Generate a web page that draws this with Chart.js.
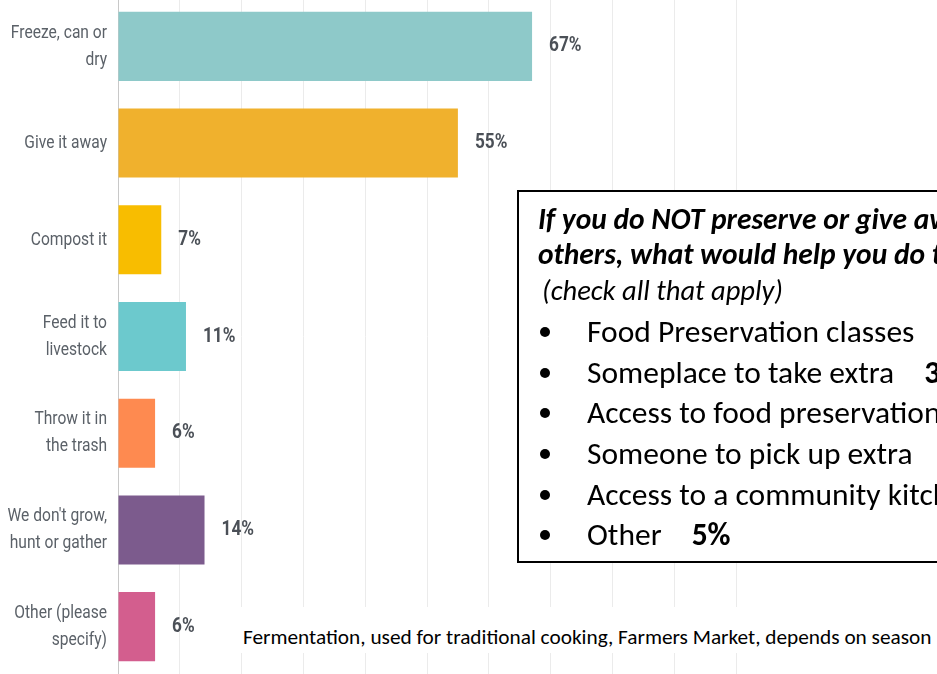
<!DOCTYPE html>
<html lang="en">
  <head>
    <meta charset="UTF-8" />
    <script src="https://cdn.jsdelivr.net/npm/chart.js"></script>
    <title>Extra food</title>
    <style>
      html, body {
        margin: 0;
        padding: 0;
        width: 937px;
        height: 674px;
        overflow: hidden;
        background: #fff;
      }
      #wrap {
        position: absolute;
        left: 0;
        top: -2px;
        width: 937px;
        height: 677px;
      }
      .note-box {
        position: absolute;
        left: 517px;
        top: 190px;
        width: 620px;
        height: 373px;
        box-sizing: border-box;
        border: 2px solid #000;
        background: #fff;
        font-family: Carlito, Lato, sans-serif;
        color: #000;
        white-space: nowrap;
      }
      .note-box .head {
        position: absolute;
        left: 19px;
        font-size: 29.5px;
        font-weight: bold;
        font-style: italic;
        line-height: 36px;
      }
      .note-box .sub {
        position: absolute;
        left: 23px;
        font-size: 28.5px;
        font-style: italic;
        line-height: 36px;
      }
      .note-box ul {
        position: absolute;
        left: 0;
        top: 119px;
        margin: 0;
        padding: 0;
        list-style: none;
      }
      .note-box li {
        position: relative;
        padding-left: 68px;
        font-size: 31.5px;
        line-height: 40.7px;
        height: 40.7px;
      }
      .note-box li::before {
        content: "";
        position: absolute;
        left: 21px;
        top: 16px;
        width: 10px;
        height: 10px;
        border-radius: 50%;
        background: #000;
      }
      .note-box li b {
        margin-left: 30px;
      }
      .footnote {
        position: absolute;
        left: 236px;
        top: 607px;
        width: 701px;
        height: 46px;
        background: #fff;
        font-family: Carlito, Lato, sans-serif;
        font-size: 21.3px;
        line-height: 46px;
        padding-left: 7px;
        box-sizing: border-box;
        white-space: nowrap;
        color: #000;
      }
      .footnote span {
        position: relative;
        top: 7px;
      }
    </style>
  </head>
  <body>
    <div id="wrap"><canvas id="chart"></canvas></div>
    <div class="note-box" id="note"></div>
    <div class="footnote"><span id="footnote"></span></div>
    <script>
      // survey answers (percent of respondents)
      const categories = [
        ['Freeze, can or', 'dry'],
        'Give it away',
        'Compost it',
        ['Feed it to', 'livestock'],
        ['Throw it in', 'the trash'],
        ["We don't grow,", 'hunt or gather'],
        ['Other (please', 'specify)']
      ];
      const values = [67, 55, 7, 11, 6, 14, 6];
      const barColors = ['#8ec9c9', '#f0b12d', '#f8bd00', '#6cc9cd', '#fe8a50', '#7c5b8d', '#d35e8e'];
      const xTicks = [0, 10, 20, 30, 40, 50, 60, 70, 80, 90, 100];

      const noteHeading = [
        'If you do NOT preserve or give away extra food to',
        'others, what would help you do this?'
      ];
      const noteSub = '(check all that apply)';
      const noteItems = [
        ['Food Preservation classes', ''],
        ['Someplace to take extra', '35%'],
        ['Access to food preservation equipment', ''],
        ['Someone to pick up extra', ''],
        ['Access to a community kitchen', ''],
        ['Other', '5%']
      ];
      const footnoteText = 'Fermentation, used for traditional cooking, Farmers Market, depends on season';

      // text box
      const note = document.getElementById('note');
      noteHeading.forEach((line, i) => {
        const d = document.createElement('div');
        d.className = 'head';
        d.style.top = (9 + i * 35) + 'px';
        d.textContent = line;
        note.appendChild(d);
      });
      const sub = document.createElement('div');
      sub.className = 'sub';
      sub.style.top = '81px';
      sub.textContent = noteSub;
      note.appendChild(sub);
      const ul = document.createElement('ul');
      noteItems.forEach(item => {
        const li = document.createElement('li');
        li.textContent = item[0];
        if (item[1]) {
          const b = document.createElement('b');
          b.textContent = item[1];
          li.appendChild(b);
        }
        ul.appendChild(li);
      });
      note.appendChild(ul);
      document.getElementById('footnote').textContent = footnoteText;

      const labelFont = 'Roboto, sans-serif';

      // category names (condensed) and percent labels
      const textLayer = {
        id: 'textLayer',
        afterDatasetsDraw(chart) {
          const ctx = chart.ctx;
          const yScale = chart.scales.y;
          const meta = chart.getDatasetMeta(0);
          ctx.save();
          ctx.textBaseline = 'middle';

          ctx.font = '19px ' + labelFont;
          ctx.fillStyle = '#5b6168';
          ctx.textAlign = 'right';
          categories.forEach((cat, i) => {
            const lines = Array.isArray(cat) ? cat : [cat];
            const y = yScale.getPixelForValue(i);
            lines.forEach((line, j) => {
              const dy = (j - (lines.length - 1) / 2) * 27;
              ctx.save();
              ctx.translate(yScale.right - 11, y + dy);
              ctx.scale(0.82, 1);
              ctx.fillText(line, 0, 0);
              ctx.restore();
            });
          });

          ctx.font = 'bold 20px ' + labelFont;
          ctx.fillStyle = '#4b5057';
          ctx.textAlign = 'left';
          meta.data.forEach((bar, i) => {
            ctx.save();
            ctx.translate(bar.x + 17, bar.y);
            ctx.scale(0.86, 1);
            ctx.fillText(values[i] + '%', 0, 0);
            ctx.restore();
          });
          ctx.restore();
        }
      };

      new Chart(document.getElementById('chart'), {
        type: 'bar',
        data: {
          labels: categories,
          datasets: [{
            data: values,
            backgroundColor: barColors,
            borderWidth: 0,
            categoryPercentage: 1,
            barPercentage: 0.714
          }]
        },
        options: {
          indexAxis: 'y',
          responsive: true,
          maintainAspectRatio: false,
          animation: false,
          layout: { autoPadding: false, padding: { left: 0, right: 201, top: 0, bottom: 0 } },
          plugins: {
            legend: { display: false },
            tooltip: { enabled: false }
          },
          scales: {
            x: {
              min: 0,
              max: 100,
              afterBuildTicks: scale => { scale.ticks = xTicks.map(v => ({ value: v })); },
              afterFit: scale => { scale.height = 0; },
              ticks: { display: false },
              grid: { color: '#ebebeb', drawTicks: false },
              border: { display: false }
            },
            y: {
              afterFit: scale => { scale.width = 118; },
              grid: { display: false },
              border: { color: '#c8c8c8', width: 1 },
              ticks: { display: false }
            }
          }
        },
        plugins: [textLayer]
      });
    </script>
  </body>
</html>
